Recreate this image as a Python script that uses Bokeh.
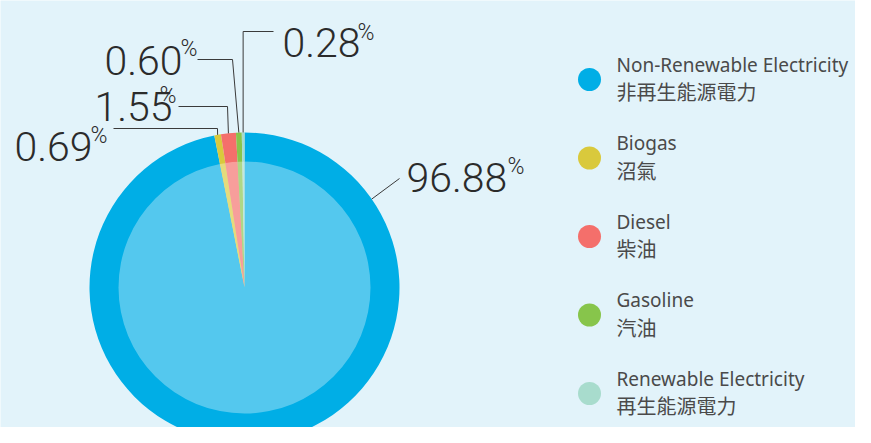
import math
from bokeh.plotting import figure
from bokeh.models import Range1d, ColumnDataSource
from bokeh.core.properties import value
from bokeh.embed import file_html
from bokeh.resources import INLINE

# ---- data ----
categories = ["Non-Renewable Electricity", "Biogas", "Diesel", "Gasoline", "Renewable Electricity"]
categories_zh = ["非再生能源電力", "沼氣", "柴油", "汽油", "再生能源電力"]
values = [96.88, 0.69, 1.55, 0.60, 0.28]
colors = ["#00aee6", "#d9c93c", "#f46f6b", "#87c54b", "#a8dccd"]

BG = "#e2f3fa"
W, H = 855, 427

def Y(sy):  # screen y -> data y
    return H - sy

p = figure(width=W, height=H, output_backend="svg", toolbar_location=None,
           x_range=Range1d(0, W), y_range=Range1d(0, H),
           min_border=0, outline_line_color=None,
           background_fill_color=BG, border_fill_color=BG)
p.axis.visible = False
p.grid.visible = False

# ---- pie ----
cx, cy = 244, Y(287)
R_out, R_in = 155, 126
total = sum(values)
starts, ends, mids = [], [], []
cum = 0.0
for v in values:
    a0 = math.pi / 2 - 2 * math.pi * cum / total
    cum += v
    a1 = math.pi / 2 - 2 * math.pi * cum / total
    starts.append(a1)
    ends.append(a0)
    mids.append((a0 + a1) / 2)

src = ColumnDataSource(dict(start=starts, end=ends, color=colors))
p.wedge(x=cx, y=cy, radius=R_out, start_angle="start", end_angle="end",
        fill_color="color", line_color=None, source=src)
p.wedge(x=cx, y=cy, radius=R_in, start_angle="start", end_angle="end",
        fill_color="color", line_color=None, source=src)
p.scatter(x=[cx], y=[cy], size=2 * R_in, marker="circle",
          fill_color="white", fill_alpha=0.33, line_color=None)

# ---- labels with leaders ----
label_font = "Roboto Light"
txt_color = "#2b2b2b"
# (num_left, baseline, pct_left, pct_baseline, start_x, bend_x, bend_y) per small slice index
small_layout = {
    4: (282, 42, 357, 32, 273, None, 31),
    3: (104, 60, 180, 48, 197, 232, 59),
    2: (94, 106, 159, 95, 178, 227, 106),
    1: (14, 146, 90, 135, 113, 217, 128),
}
xs, ys = [], []
nx, ny, nt, px_, py_ = [], [], [], [], []
for i, (nl, bl, pl, pb, sx, bx, by) in small_layout.items():
    ax = cx + R_out * math.cos(mids[i])
    ay = cy + R_out * math.sin(mids[i])
    if bx is None:
        bx = ax
    xs.append([sx, bx, ax])
    ys.append([Y(by), Y(by), ay])
    nx.append(nl); ny.append(Y(bl)); nt.append(f"{values[i]:.2f}")
    px_.append(pl); py_.append(Y(pb))

# big slice label
ang = math.radians(34.8)
ax = cx + R_out * math.cos(ang)
ay = cy + R_out * math.sin(ang)
xs.append([ax, 399]); ys.append([ay, Y(178)])
nx.append(406); ny.append(Y(177)); nt.append(f"{values[0]:.2f}")
px_.append(507); py_.append(Y(166))

p.multi_line(xs=xs, ys=ys, line_color="#3a3a3a", line_width=1)
p.text(x=nx, y=ny, text=nt, text_font=value(label_font), text_font_size="41px",
       text_color=txt_color, text_align="left", text_baseline="alphabetic")
p.text(x=px_, y=py_, text=["%"] * len(px_), text_font=value(label_font),
       text_font_size="23px", text_color=txt_color, text_align="left",
       text_baseline="alphabetic")

# ---- legend ----
leg_x = 589
leg_y0, leg_dy = 79, 78.5
ly = [Y(leg_y0 + k * leg_dy) for k in range(len(categories))]
p.scatter(x=[leg_x] * len(categories), y=ly, size=23, marker="circle",
          fill_color=colors, line_color=None)
p.text(x=[616] * len(categories), y=[v + 15 for v in ly], text=categories,
       text_font=value("Noto Sans"), text_font_size="19px", text_color="#4a4a4a",
       text_align="left", text_baseline="middle")
p.text(x=[616] * len(categories), y=[v - 12 for v in ly], text=categories_zh,
       text_font=value("Noto Sans CJK TC"), text_font_size="20px", text_color="#4a4a4a",
       text_align="left", text_baseline="middle")

html = file_html(p, INLINE)
html = html.replace("<body>", '<body style="background-color:%s;">' % BG, 1)
open("out.html", "w").write(html)
